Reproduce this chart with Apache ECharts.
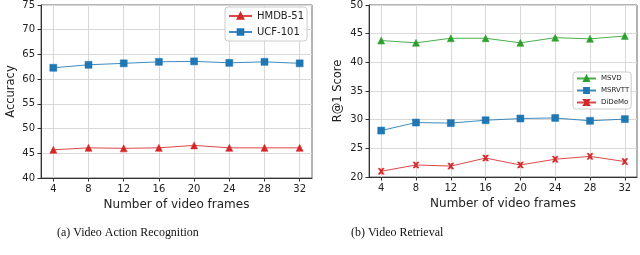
<!DOCTYPE html>
<html><head><meta charset="utf-8">
<script src="https://cdn.jsdelivr.net/npm/echarts@6/dist/echarts.min.js"></script>
<style>html,body{margin:0;padding:0;background:#fff}#c{width:640px;height:255px}</style>
</head><body><div id="c"></div>
<script>
const frames = [4, 8, 12, 16, 20, 24, 28, 32];
const hmdb51 = [45.7, 46.1, 46.0, 46.1, 46.6, 46.1, 46.1, 46.1];
const ucf101 = [62.3, 62.9, 63.2, 63.5, 63.6, 63.3, 63.5, 63.2];
const msvd   = [43.8, 43.4, 44.2, 44.2, 43.4, 44.3, 44.1, 44.6];
const msrvtt = [28.1, 29.5, 29.4, 29.9, 30.2, 30.3, 29.8, 30.1];
const didemo = [21.0, 22.1, 21.9, 23.3, 22.1, 23.1, 23.6, 22.7];
const leftTicks = [40, 45, 50, 55, 60, 65, 70, 75];
const rightTicks = [20, 25, 30, 35, 40, 45, 50];
const captions = ['(a) Video Action Recognition', '(b) Video Retrieval'];

const RED = '#d62728', BLUE = '#1f77b4', GREEN = '#2ca02c';
const XPATH = 'path://M0,0 L3,0 L5,2.6 L7,0 L10,0 L6.6,5 L10,10 L7,10 L5,7.4 L3,10 L0,10 L3.4,5 Z';
const FONT = 'DejaVu Sans';
const pairs = arr => frames.map((f, i) => [f, arr[i]]);

function xAxis(gi) {
  return {
    type: 'value', gridIndex: gi, min: 2.6, max: 33.4,
    name: 'Number of video frames', nameLocation: 'middle', nameGap: 20,
    nameTextStyle: { fontFamily: FONT, fontSize: 12, color: '#222' },
    axisLine: { show: true, lineStyle: { color: '#333', width: 1 } },
    axisTick: { show: true, customValues: frames, length: 3.5, lineStyle: { color: '#333' } },
    axisLabel: { customValues: frames, fontFamily: FONT, fontSize: 10, color: '#222', margin: 6 },
    splitLine: { show: true, lineStyle: { color: '#d8d8d8', width: 1 } }
  };
}
function yAxis(gi, ticks, name, gap) {
  return {
    type: 'value', gridIndex: gi, min: ticks[0], max: ticks[ticks.length - 1], interval: 5,
    name: name, nameLocation: 'middle', nameGap: gap,
    nameTextStyle: { fontFamily: FONT, fontSize: 11.5, color: '#222' },
    axisLine: { show: true, lineStyle: { color: '#333', width: 1 } },
    axisTick: { show: true, length: 3.5, lineStyle: { color: '#333' } },
    axisLabel: { fontFamily: FONT, fontSize: 10, color: '#222', margin: 6 },
    splitLine: { show: true, lineStyle: { color: '#d8d8d8', width: 1 } }
  };
}
function line(name, data, gi, color, symbol, size) {
  return {
    type: 'line', name: name, xAxisIndex: gi, yAxisIndex: gi, data: pairs(data),
    symbol: symbol, symbolSize: size, showSymbol: true,
    lineStyle: { color: color, width: 1, opacity: 0.85 },
    itemStyle: { color: color, borderColor: color, borderWidth: 0.5 },
    animation: false
  };
}

const chart = echarts.init(document.getElementById('c'), null, { renderer: 'canvas' });
chart.setOption({
  animation: false,
  grid: [
    { left: 41, right: 328, top: 3, bottom: 77, show: true, borderColor: '#666', borderWidth: 1 },
    { left: 369, right: 3, top: 3, bottom: 78, show: true, borderColor: '#666', borderWidth: 1 }
  ],
  xAxis: [xAxis(0), xAxis(1)],
  yAxis: [yAxis(0, leftTicks, 'Accuracy', 24), yAxis(1, rightTicks, 'R@1 Score', 25)],
  legend: [
    { data: ['HMDB-51', 'UCF-101'], orient: 'vertical', left: 225, top: 7, itemWidth: 23, itemHeight: 7, itemGap: 6,
      padding: [4, 3, 4, 3], borderColor: '#ccc', borderWidth: 1, borderRadius: 3, backgroundColor: 'rgba(255,255,255,0.8)',
      textStyle: { fontFamily: FONT, fontSize: 10, color: '#222' } },
    { data: ['MSVD', 'MSRVTT', 'DiDeMo'], orient: 'vertical', left: 573, top: 72, itemWidth: 19, itemHeight: 6, itemGap: 5,
      padding: [3, 2, 3, 3], borderColor: '#ccc', borderWidth: 1, borderRadius: 3, backgroundColor: 'rgba(255,255,255,0.8)',
      textStyle: { fontFamily: FONT, fontSize: 7, color: '#222' } }
  ],
  series: [
    line('HMDB-51', hmdb51, 0, RED, 'triangle', 7),
    line('UCF-101', ucf101, 0, BLUE, 'rect', 7),
    line('MSVD', msvd, 1, GREEN, 'triangle', 7),
    line('MSRVTT', msrvtt, 1, BLUE, 'rect', 7),
    line('DiDeMo', didemo, 1, RED, XPATH, 6)
  ],
  graphic: [
    { type: 'text', x: 57, y: 226, scaleX: 0.92, style: { text: captions[0], fontFamily: 'Liberation Serif', fontSize: 13, fill: '#111' } },
    { type: 'text', x: 351, y: 226, scaleX: 0.92, style: { text: captions[1], fontFamily: 'Liberation Serif', fontSize: 13, fill: '#111' } }
  ]
});
</script></body></html>
